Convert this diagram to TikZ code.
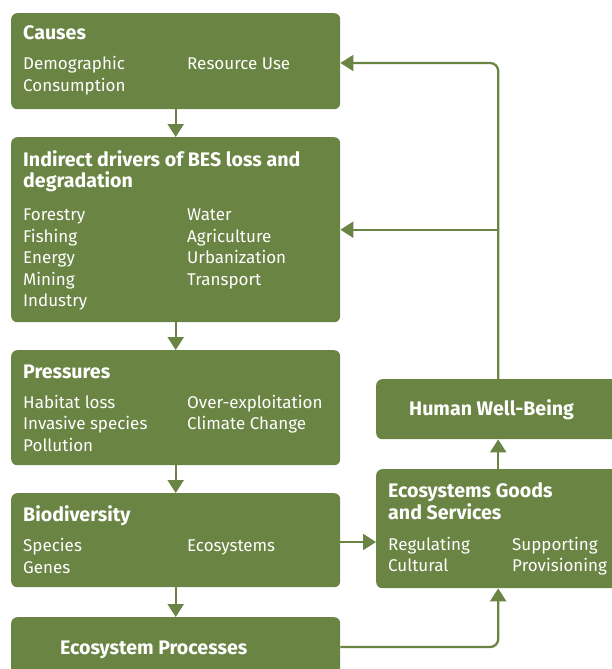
\documentclass[tikz,border=0pt]{standalone}
\usepackage{fontspec}
\setmainfont{Fira Sans}
\usetikzlibrary{arrows.meta}
\definecolor{leaf}{RGB}{106,132,68}
\tikzset{
  box/.style={fill=leaf, draw=none, rounded corners=6pt, anchor=north west, inner sep=0pt},
  ttl/.style={text=white, anchor=base west, inner sep=0pt, font=\fontsize{19.6}{21.5}\selectfont\bfseries, align=left},
  bod/.style={text=white, anchor=base west, inner sep=0pt, font=\fontsize{17}{21.5}\selectfont, align=left},
  arr/.style={draw=leaf, line width=2.3pt, -{Triangle[width=16pt,length=13pt]}},
  ln/.style={draw=leaf, line width=2.3pt}
}
\begin{document}
\begin{tikzpicture}[x=1pt,y=-1pt]
\useasboundingbox (0,0) rectangle (612,669);
\clip (0,0) rectangle (612,669);
% boxes
\node[box, minimum width=329pt, minimum height=96pt] (causes) at (11,13) {};
\node[box, minimum width=329pt, minimum height=185pt] (indirect) at (11,137) {};
\node[box, minimum width=329pt, minimum height=115pt] (press) at (11,350) {};
\node[box, minimum width=329pt, minimum height=94pt] (bio) at (11,493) {};
\node[box, minimum width=329pt, minimum height=80pt] (proc) at (11,617) {};
\node[box, minimum width=244pt, minimum height=60pt] (hwb) at (376,379) {};
\node[box, minimum width=244pt, minimum height=119pt] (egs) at (376,469) {};
% texts (anchor = baseline of last line)
\node[ttl] (t1) at (23,40) {Causes};
\node[bod] (c1) at (23,91.5) {Demographic\\Consumption};
\node[bod] (c2) at (187,70) {Resource Use};
\node[ttl] (t2) at (23,187.5) {Indirect drivers of BES loss and\\degradation};
\node[bod] (d1) at (23,306.5) {Forestry\\Fishing\\Energy\\Mining\\Industry};
\node[bod] (d2) at (187,285) {Water\\Agriculture\\Urbanization\\Transport};
\node[ttl] (t3) at (23,378) {Pressures};
\node[bod] (p1) at (23,451) {Habitat loss\\Invasive species\\Pollution};
\node[bod] (p2) at (187,429.5) {Over-exploitation\\Climate Change};
\node[ttl] (t4) at (23,521.5) {Biodiversity};
\node[bod] (b1) at (23,573) {Species\\Genes};
\node[bod] (b2) at (187,551.5) {Ecosystems};
\node[ttl] (t5) at (60,654) {Ecosystem Processes};
\node[ttl] (t6) at (409,415.5) {Human Well-Being};
\node[ttl] (t7) at (388,519) {Ecosystems Goods\\and Services};
\node[bod] (e1) at (388,571.5) {Regulating\\Cultural};
\node[bod] (e2) at (512,571.5) {Supporting\\Provisioning};
% connectors
\draw[arr] (causes) -- (indirect);
\draw[arr] (indirect) -- (press);
\draw[arr] (press) -- (bio);
\draw[arr] (bio) -- (proc);
\draw[arr] (bio.east |- 0,542) -- (egs.west |- 0,542);
\draw[arr, rounded corners=8pt] (proc.east |- 0,647) -| (egs.south);
\draw[arr] (egs) -- (hwb);
\draw[arr, rounded corners=8pt] (hwb.north) |- (causes.east |- 0,63);
\draw[arr] (hwb.north |- indirect.east) -- (indirect.east);
\end{tikzpicture}
\end{document}
